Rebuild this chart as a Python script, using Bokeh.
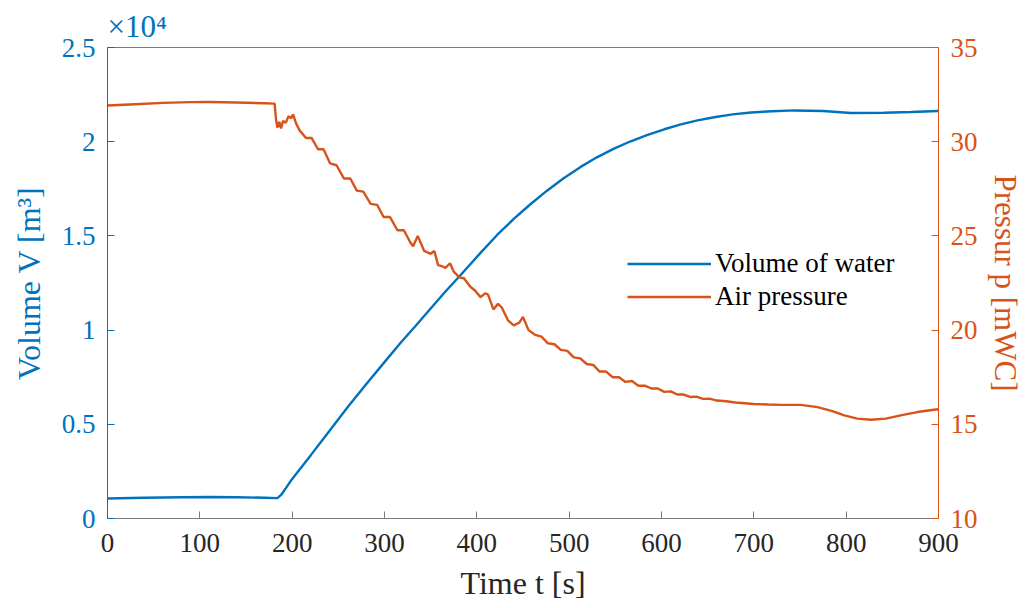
from bokeh.plotting import figure
from bokeh.models import (Range1d, LinearAxis, FixedTicker, CustomJSTickFormatter,
                          Legend, LegendItem)
from bokeh.embed import file_html
from bokeh.resources import INLINE

# ---------------- data ----------------
vol_time = [0, 40, 80, 110, 140, 170, 184, 188, 193, 200, 220, 238, 260, 283, 300, 317,
            335, 350, 366, 382, 404, 422, 440, 458, 476, 494, 512, 530, 548, 566, 585,
            603, 621, 639, 657, 677, 697, 720, 744, 775, 805, 841, 870, 900]
vol_m3 = [1060, 1100, 1130, 1140, 1130, 1100, 1080, 1250, 1600, 2100, 3350, 4500, 5900,
          7300, 8300, 9300, 10300, 11150, 12050, 12900, 14100, 15050, 15900, 16680, 17400,
          18060, 18650, 19170, 19620, 20010, 20360, 20660, 20920, 21130, 21300, 21450,
          21550, 21620, 21660, 21630, 21520, 21540, 21580, 21630]

pres_time = [0, 30, 60, 90, 110, 140, 170, 181, 182.5, 184, 186, 188, 190, 193, 196, 199,
             201, 204, 208, 215, 221, 228, 234, 241, 248, 256, 263, 270, 277, 285, 292,
             299, 306, 314, 321, 328, 331, 336, 343, 350, 354, 358, 362, 366, 371, 375,
             381, 386, 393, 398, 404, 409, 412, 418, 423, 427, 434, 440, 446, 450, 456,
             463, 470, 477, 484, 491, 498, 505, 512, 519, 526, 533, 540, 547, 554, 561,
             568, 575, 582, 589, 596, 603, 610, 617, 624, 631, 638, 645, 652, 660, 670,
             680, 690, 700, 715, 730, 751, 769, 785, 798, 812, 827, 843, 859, 877, 895, 900]
pres_mwc = [31.92, 31.99, 32.06, 32.1, 32.11, 32.08, 32.04, 32.02, 31.2, 30.75, 31.05,
            30.7, 31.1, 31.0, 31.35, 31.25, 31.45, 31.0, 30.6, 30.2, 30.2, 29.6, 29.6,
            28.85, 28.75, 28.05, 28.05, 27.4, 27.35, 26.7, 26.65, 26.0, 26.0, 25.3, 25.3,
            24.65, 24.45, 25.0, 24.2, 24.05, 24.2, 23.45, 23.4, 23.3, 23.55, 23.1, 22.8,
            22.75, 22.3, 22.1, 21.75, 21.95, 21.9, 21.1, 21.4, 21.2, 20.5, 20.25, 20.4,
            20.7, 20.0, 19.75, 19.65, 19.3, 19.25, 18.95, 18.9, 18.55, 18.5, 18.2, 18.15,
            17.8, 17.8, 17.5, 17.5, 17.25, 17.3, 17.05, 17.05, 16.9, 16.9, 16.72, 16.75,
            16.58, 16.58, 16.45, 16.47, 16.35, 16.36, 16.26, 16.22, 16.16, 16.12, 16.08,
            16.05, 16.03, 16.03, 15.91, 15.7, 15.47, 15.3, 15.24, 15.3, 15.47, 15.65,
            15.77, 15.8]

x_ticks = [0, 100, 200, 300, 400, 500, 600, 700, 800, 900]
vol_ticks = [0, 5000, 10000, 15000, 20000, 25000]
pres_ticks = [10, 15, 20, 25, 30, 35]

BLUE = "#0072BD"
ORANGE = "#D95319"
FONT = "Liberation Serif"
GRAY = "#7a7a7a"
TICK_FS = "27px"
LABEL_FS = "32px"

p = figure(width=1027, height=608, output_backend="svg", toolbar_location=None,
           x_range=Range1d(0, 900), y_range=Range1d(0, 25000),
           min_border_left=107, min_border_right=89, min_border_top=47,
           min_border_bottom=90, background_fill_color="white",
           border_fill_color="white", outline_line_color=None,
           title="×10⁴")
p.extra_y_ranges = {"p": Range1d(10, 35)}
p.xgrid.visible = False
p.ygrid.visible = False

p.title.text_font = FONT
p.title.text_font_size = "31px"
p.title.text_font_style = "normal"
p.title.text_color = BLUE
p.title.align = "left"
p.title.offset = 0
p.title.standoff = 8

# bottom axis
xa = p.xaxis[0]
xa.ticker = FixedTicker(ticks=x_ticks)
xa.axis_label = "Time t [s]"
xa.axis_line_color = GRAY
xa.major_tick_line_color = GRAY
xa.major_tick_in = 7
xa.major_tick_out = 0
xa.minor_tick_line_color = None
xa.major_label_text_font = FONT
xa.major_label_text_font_size = TICK_FS
xa.major_label_text_color = "#262626"
xa.major_label_standoff = 15
xa.axis_label_text_font = FONT
xa.axis_label_text_font_size = LABEL_FS
xa.axis_label_text_font_style = "normal"
xa.axis_label_text_color = "#262626"
xa.axis_label_standoff = 10

# left axis
ya = p.yaxis[0]
ya.ticker = FixedTicker(ticks=vol_ticks)
ya.formatter = CustomJSTickFormatter(code="return String(tick/10000);")
ya.axis_label = "Volume V [m³]"
ya.axis_line_color = BLUE
ya.major_tick_line_color = BLUE
ya.major_tick_in = 7
ya.major_tick_out = 0
ya.minor_tick_line_color = None
ya.major_label_text_font = FONT
ya.major_label_text_font_size = TICK_FS
ya.major_label_text_color = BLUE
ya.major_label_standoff = 12
ya.axis_label_text_font = FONT
ya.axis_label_text_font_size = LABEL_FS
ya.axis_label_text_font_style = "normal"
ya.axis_label_text_color = BLUE
ya.axis_label_standoff = 12

# right axis
ra = LinearAxis(y_range_name="p", ticker=FixedTicker(ticks=pres_ticks),
                axis_label="Pressur p [mWC]")
ra.axis_line_color = ORANGE
ra.major_tick_line_color = ORANGE
ra.major_tick_in = 7
ra.major_tick_out = 0
ra.minor_tick_line_color = None
ra.major_label_text_font = FONT
ra.major_label_text_font_size = TICK_FS
ra.major_label_text_color = ORANGE
ra.major_label_standoff = 12
ra.axis_label_text_font = FONT
ra.axis_label_text_font_size = "31px"
ra.axis_label_text_font_style = "normal"
ra.axis_label_text_color = ORANGE
ra.axis_label_standoff = 7
p.add_layout(ra, "right")

# top border
ta = LinearAxis(ticker=FixedTicker(ticks=[]))
ta.axis_line_color = GRAY
ta.major_tick_line_color = None
ta.minor_tick_line_color = None
ta.major_label_text_font_size = "0px"
ta.major_label_standoff = 0
p.add_layout(ta, "above")

r_vol = p.line(vol_time, vol_m3, line_color=BLUE, line_width=2.4)
r_pres = p.line(pres_time, pres_mwc, line_color=ORANGE, line_width=2.4, y_range_name="p")

legend = Legend(items=[LegendItem(label="Volume of water", renderers=[r_vol]),
                       LegendItem(label="Air pressure", renderers=[r_pres])],
                location=(520, 205), padding=0, margin=0, spacing=0,
                glyph_width=84, glyph_height=33, label_height=33, label_standoff=4,
                label_text_font=FONT, label_text_font_size="27px",
                label_text_color="#000000",
                background_fill_alpha=0, border_line_color=None)
p.add_layout(legend)

open("out.html", "w").write(file_html(p, INLINE))
